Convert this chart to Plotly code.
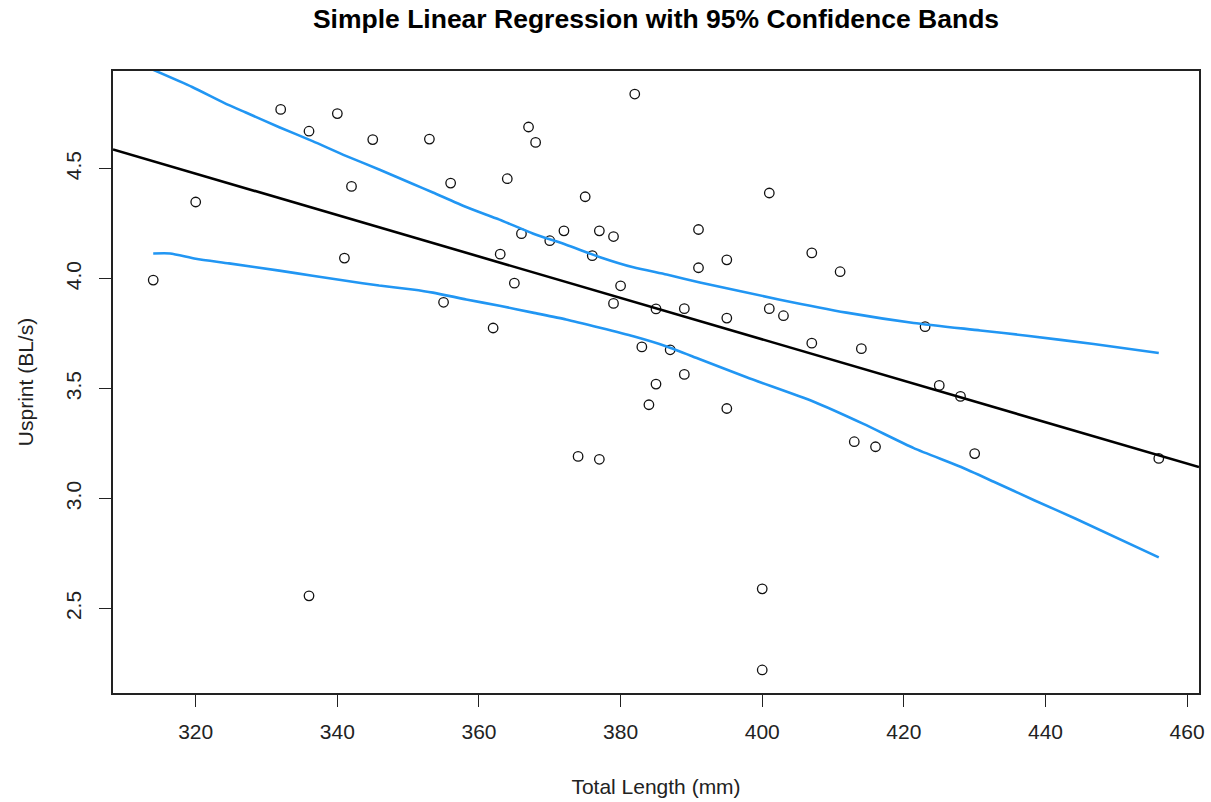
import numpy as np
import plotly.graph_objects as go

# Data
total_length = [314, 320, 332, 336, 336, 340, 341, 342, 345, 353, 355, 356, 362, 363, 364,
                365, 366, 367, 368, 370, 372, 374, 375, 376, 377, 377, 379, 379, 380, 382,
                383, 384, 385, 385, 387, 389, 389, 391, 391, 395, 395, 395, 400, 400, 401,
                401, 403, 407, 407, 411, 413, 414, 416, 423, 425, 428, 430, 456]
usprint = [3.994, 4.349, 4.770, 4.671, 2.558, 4.751, 4.094, 4.420, 4.633, 4.635, 3.893, 4.435,
           3.776, 4.112, 4.455, 3.980, 4.205, 4.690, 4.620, 4.173, 4.218, 3.192, 4.373, 4.105,
           4.218, 3.179, 4.192, 3.888, 3.968, 4.840, 3.690, 3.427, 3.863, 3.521, 3.677, 3.864,
           3.565, 4.224, 4.050, 4.086, 3.821, 3.410, 2.590, 2.221, 4.390, 3.864, 3.832, 4.118,
           3.707, 4.032, 3.259, 3.682, 3.236, 3.782, 3.515, 3.465, 3.205, 3.183]

# Confidence band curves
upper_x = [314, 319.5, 324, 327, 331.8, 336.5, 341.2, 345.9, 350.6, 353.5, 358.2, 362.9,
           367.6, 372.3, 377.1, 381.8, 386.5, 391.2, 402.5, 411.9, 421.4, 430.8, 437.4,
           446.8, 456]
upper_y = [4.95, 4.872, 4.8, 4.757, 4.689, 4.626, 4.559, 4.497, 4.432, 4.392, 4.326, 4.269,
           4.206, 4.155, 4.098, 4.052, 4.019, 3.983, 3.905, 3.846, 3.799, 3.765, 3.741,
           3.703, 3.662]
lower_x = [314, 316.4, 320, 324.7, 331.8, 336.5, 341.2, 345.9, 350.6, 353.5, 358.2, 362.9,
           367.6, 372.3, 377.1, 381.8, 386.5, 391.2, 397.8, 407.2, 414.3, 421.4, 428,
           432.7, 438.4, 444.2, 456]
lower_y = [4.115, 4.115, 4.091, 4.07, 4.037, 4.014, 3.991, 3.969, 3.951, 3.937, 3.906, 3.877,
           3.846, 3.815, 3.777, 3.738, 3.692, 3.634, 3.552, 3.442, 3.34, 3.23, 3.145,
           3.077, 2.993, 2.91, 2.733]

x_ticks = [320, 340, 360, 380, 400, 420, 440, 460]
y_ticks = [2.5, 3.0, 3.5, 4.0, 4.5]
y_tick_labels = ["2.5", "3.0", "3.5", "4.0", "4.5"]

# R-style axis ranges (data range extended by 4%)
xa = np.array(total_length, dtype=float)
ya = np.array(usprint, dtype=float)
xpad = 0.04 * (xa.max() - xa.min())
ypad = 0.04 * (ya.max() - ya.min())
xr = [xa.min() - xpad, xa.max() + xpad]
yr = [ya.min() - ypad, ya.max() + ypad]

slope, intercept = np.polyfit(xa, ya, 1)
fit_x = np.array(xr)
fit_y = intercept + slope * fit_x

FONT = "Liberation Sans, Arial, sans-serif"

fig = go.Figure()
fig.add_trace(go.Scatter(x=total_length, y=usprint, mode="markers",
                         marker=dict(symbol="circle-open", size=9.5, color="#111111",
                                     line=dict(width=1.3, color="#111111")),
                         showlegend=False, hoverinfo="x+y"))
fig.add_trace(go.Scatter(x=fit_x, y=fit_y, mode="lines",
                         line=dict(color="black", width=2.6), showlegend=False))
fig.add_trace(go.Scatter(x=upper_x, y=upper_y, mode="lines", line_shape="spline",
                         line=dict(color="#2196F3", width=2.6, smoothing=0.6), showlegend=False))
fig.add_trace(go.Scatter(x=lower_x, y=lower_y, mode="lines", line_shape="spline",
                         line=dict(color="#2196F3", width=2.6, smoothing=0.6), showlegend=False))

fig.update_layout(
    width=1211, height=802,
    margin=dict(l=113, r=12, t=71, b=109, autoexpand=False),
    paper_bgcolor="white", plot_bgcolor="white",
    font=dict(family=FONT, size=21, color="#222222"),
    title=dict(text="<b>Simple Linear Regression with 95% Confidence Bands</b>",
               x=(113 + 1199) / 2 / 1211, xanchor="center",
               y=1 - 19 / 802, yanchor="middle", yref="container",
               font=dict(family=FONT, size=26.5, color="black")),
)
fig.update_xaxes(range=xr, tickvals=x_ticks, ticks="outside", ticklen=12, tickwidth=1.3,
                 tickcolor="#222222", showline=True, linecolor="#222222", linewidth=1.5,
                 mirror=True, showgrid=False, zeroline=False, ticklabelstandoff=7,
                 automargin=False,
                 title=dict(text="Total Length (mm)", standoff=37,
                            font=dict(family=FONT, size=21, color="#222222")))
fig.update_yaxes(range=yr, tickvals=y_ticks, ticktext=y_tick_labels, tickangle=-90,
                 ticks="outside", ticklen=12, tickwidth=1.3, tickcolor="#222222",
                 showline=True, linecolor="#222222", linewidth=1.5, mirror=True,
                 showgrid=False, zeroline=False, ticklabelstandoff=10,
                 automargin=False,
                 title=dict(text="Usprint (BL/s)", standoff=22,
                            font=dict(family=FONT, size=21, color="#222222")))

fig.write_html("out.html")
